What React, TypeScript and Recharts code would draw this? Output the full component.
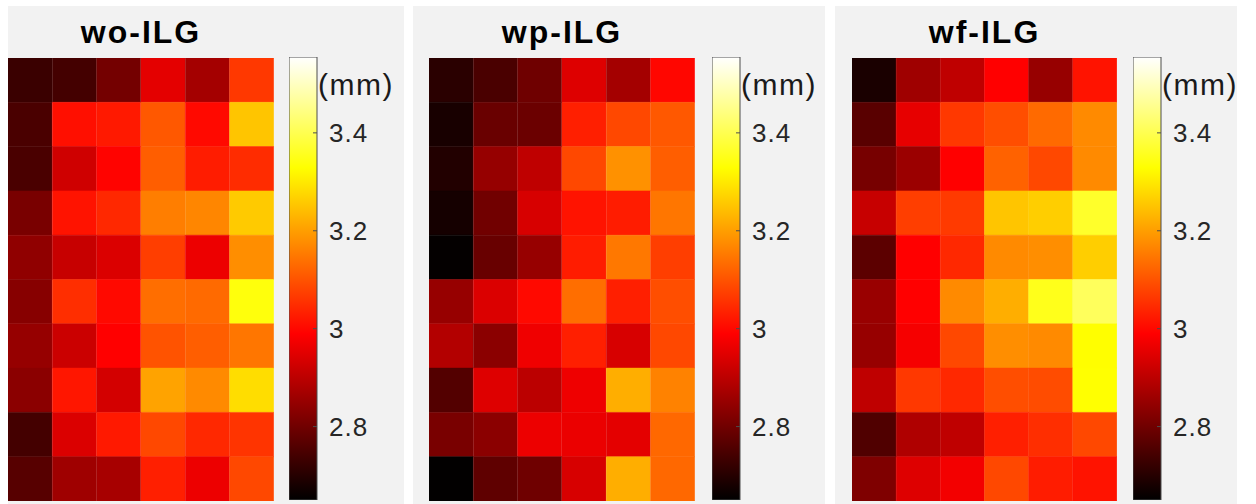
import { BarChart, Bar, Cell, XAxis, YAxis } from 'recharts';

// colour scale limits (mm) and colorbar ticks
const VMIN = 2.65;
const VMAX = 3.555;
const CB_TICKS = [2.8, 3, 3.2, 3.4];
const COLUMNS = ['1', '2', '3', '4', '5', '6'];
const TITLES = ['wo-ILG', 'wp-ILG', 'wf-ILG'];

// 10 rows (top to bottom) x 6 columns, values in mm
const woILG = [
  [2.727, 2.741, 2.805, 2.954, 2.868, 3.064],
  [2.748, 3.01, 3.022, 3.107, 3.001, 3.252],
  [2.748, 2.925, 2.994, 3.115, 3.027, 3.048],
  [2.811, 3.014, 3.043, 3.157, 3.168, 3.258],
  [2.841, 2.915, 2.942, 3.072, 2.965, 3.178],
  [2.83, 3.051, 3.001, 3.136, 3.13, 3.339],
  [2.849, 2.92, 2.99, 3.1, 3.115, 3.146],
  [2.835, 3.019, 2.931, 3.206, 3.173, 3.284],
  [2.741, 2.942, 3.022, 3.085, 3.043, 3.058],
  [2.766, 2.862, 2.872, 3.03, 2.965, 3.085],
];

const wpILG = [
  [2.706, 2.748, 2.798, 2.946, 2.868, 2.998],
  [2.682, 2.79, 2.793, 3.03, 3.085, 3.107],
  [2.695, 2.849, 2.904, 3.085, 3.183, 3.115],
  [2.678, 2.801, 2.936, 3.014, 3.027, 3.146],
  [2.655, 2.788, 2.851, 3.027, 3.149, 3.072],
  [2.851, 2.941, 3.001, 3.136, 3.03, 3.093],
  [2.888, 2.835, 2.97, 3.03, 2.936, 3.085],
  [2.761, 2.946, 2.899, 2.968, 3.221, 3.162],
  [2.811, 2.835, 2.965, 2.963, 2.954, 3.128],
  [2.652, 2.777, 2.798, 2.936, 3.221, 3.128],
];

const wfILG = [
  [2.684, 2.862, 2.904, 2.99, 2.851, 3.014],
  [2.769, 2.957, 3.064, 3.093, 3.13, 3.173],
  [2.809, 2.856, 2.99, 3.12, 3.085, 3.173],
  [2.915, 3.072, 3.067, 3.252, 3.263, 3.367],
  [2.772, 2.99, 3.043, 3.173, 3.178, 3.263],
  [2.854, 2.99, 3.173, 3.221, 3.353, 3.41],
  [2.851, 2.978, 3.085, 3.178, 3.173, 3.328],
  [2.904, 3.064, 3.043, 3.093, 3.091, 3.33],
  [2.756, 2.883, 2.904, 3.03, 3.051, 3.085],
  [2.819, 2.946, 2.974, 3.085, 3.027, 3.014],
];

const GRIDS = [woILG, wpILG, wfILG];

// page layout for the three panels
const LAYOUT = [
  { panelLeft: 8, panelWidth: 396, mapLeft: 8, mapWidth: 266, barLeft: 289 },
  { panelLeft: 413, panelWidth: 412, mapLeft: 429, mapWidth: 266, barLeft: 712 },
  { panelLeft: 835, panelWidth: 402, mapLeft: 852, mapWidth: 265, barLeft: 1133 },
];
const MAP_TOP = 58;
const MAP_HEIGHT = 443;
const BAR_WIDTH = 28;
const AXIS_WIDTH = 80;
const FONT = '"Liberation Sans", Arial, Helvetica, sans-serif';

// MATLAB "hot" colormap
const hot = (v: number) => {
  const t = Math.min(1, Math.max(0, (v - VMIN) / (VMAX - VMIN)));
  const r = Math.min(1, t / 0.375);
  const g = Math.min(1, Math.max(0, (t - 0.375) / 0.375));
  const b = Math.min(1, Math.max(0, (t - 0.75) / 0.25));
  return `rgb(${Math.round(r * 255)},${Math.round(g * 255)},${Math.round(b * 255)})`;
};

const Heatmap = ({ grid, width }: { grid: number[][]; width: number }) => {
  const data = COLUMNS.map((col) => {
    const entry: Record<string, string | number> = { col };
    grid.forEach((_, i) => {
      entry[`r${i}`] = 1;
    });
    return entry;
  });

  return (
    <BarChart
      width={width}
      height={MAP_HEIGHT}
      data={data}
      margin={{ top: 0, right: 0, bottom: 0, left: 0 }}
      barCategoryGap={0}
      barGap={0}
    >
      <XAxis dataKey="col" hide />
      <YAxis hide reversed type="number" domain={[0, grid.length]} />
      {grid.map((rowVals, i) => (
        <Bar key={i} dataKey={`r${i}`} stackId="cells" isAnimationActive={false}>
          {rowVals.map((v, j) => (
            <Cell key={j} fill={hot(v)} stroke={hot(v)} strokeWidth={0.5} />
          ))}
        </Bar>
      ))}
    </BarChart>
  );
};

const ColorbarTick = (props: any) => {
  const { x, y, payload } = props;
  return (
    <g>
      <line x1={x - 4} x2={x} y1={y} y2={y} stroke="#4d4d4d" strokeWidth={1} />
      <text
        x={x + 12}
        y={y}
        dy="0.36em"
        textAnchor="start"
        fill="#262626"
        fontSize={26}
        fontFamily={FONT}
        letterSpacing={1}
      >
        {String(payload.value)}
      </text>
    </g>
  );
};

const Colorbar = ({ id }: { id: string }) => (
  <BarChart
    width={BAR_WIDTH + AXIS_WIDTH}
    height={MAP_HEIGHT + 2}
    data={[{ name: 'cb', range: [VMIN, VMAX] }]}
    margin={{ top: 1, right: 0, bottom: 1, left: 0 }}
    barCategoryGap={0}
  >
    <defs>
      <linearGradient id={id} x1="0" y1="1" x2="0" y2="0">
        <stop offset="0" stopColor="#000000" />
        <stop offset="0.375" stopColor="#ff0000" />
        <stop offset="0.75" stopColor="#ffff00" />
        <stop offset="1" stopColor="#ffffff" />
      </linearGradient>
    </defs>
    <XAxis dataKey="name" hide />
    <YAxis
      orientation="right"
      width={AXIS_WIDTH}
      type="number"
      domain={[VMIN, VMAX]}
      ticks={CB_TICKS}
      interval={0}
      allowDataOverflow
      axisLine={false}
      tickLine={false}
      tickSize={0}
      tickMargin={0}
      tick={<ColorbarTick />}
    />
    <Bar
      dataKey="range"
      fill={`url(#${id})`}
      stroke="#4d4d4d"
      strokeWidth={1}
      isAnimationActive={false}
    />
  </BarChart>
);

export default function App() {
  return (
    <div
      style={{
        position: 'absolute',
        left: 0,
        top: 0,
        width: 1256,
        height: 504,
        background: '#ffffff',
        overflow: 'hidden',
        fontFamily: FONT,
      }}
    >
      {LAYOUT.map((p, k) => (
        <div key={k}>
          <div
            style={{
              position: 'absolute',
              left: p.panelLeft,
              top: 6,
              width: p.panelWidth,
              height: 498,
              background: '#f2f2f2',
            }}
          />
          <div
            style={{
              position: 'absolute',
              left: p.mapLeft,
              top: 16,
              width: p.mapWidth,
              textAlign: 'center',
              fontSize: 32,
              lineHeight: '32px',
              fontWeight: 'bold',
              letterSpacing: 2,
              color: '#000000',
            }}
          >
            {TITLES[k]}
          </div>
          <div style={{ position: 'absolute', left: p.mapLeft, top: MAP_TOP }}>
            <Heatmap grid={GRIDS[k]} width={p.mapWidth} />
          </div>
          <div style={{ position: 'absolute', left: p.barLeft, top: MAP_TOP - 2 }}>
            <Colorbar id={`hotGrad${k}`} />
          </div>
          <div
            style={{
              position: 'absolute',
              left: p.barLeft + BAR_WIDTH + 1,
              top: 70,
              fontSize: 30,
              lineHeight: '30px',
              letterSpacing: 1.5,
              color: '#1a1a1a',
              whiteSpace: 'nowrap',
            }}
          >
            (mm)
          </div>
        </div>
      ))}
    </div>
  );
}
